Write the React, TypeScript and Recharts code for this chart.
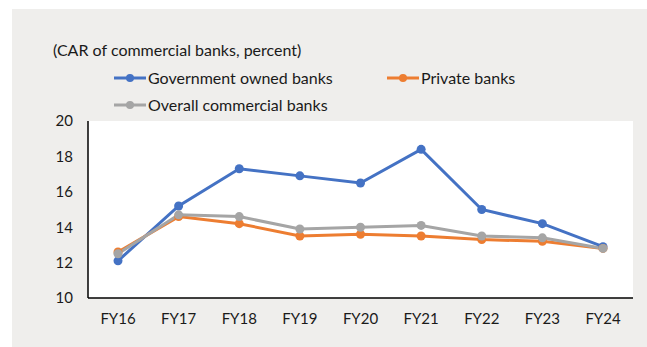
import { LineChart, Line, XAxis, YAxis, CartesianGrid } from "recharts";

// ── Data ─────────────────────────────────────────────────────────────

const YEARS = ["FY16", "FY17", "FY18", "FY19", "FY20", "FY21", "FY22", "FY23", "FY24"];
const GOVT = [12.1, 15.2, 17.3, 16.9, 16.5, 18.4, 15.0, 14.2, 12.9];
const PRIVATE = [12.6, 14.6, 14.2, 13.5, 13.6, 13.5, 13.3, 13.2, 12.8];
const OVERALL = [12.5, 14.7, 14.6, 13.9, 14.0, 14.1, 13.5, 13.4, 12.8];
const Y_TICKS = [10, 12, 14, 16, 18, 20];

const SERIES = [
  { key: "govt", name: "Government owned banks", color: "#4472c4" },
  { key: "private", name: "Private banks", color: "#ed7d31" },
  { key: "overall", name: "Overall commercial banks", color: "#a5a5a5" },
];

const data = YEARS.map((year, i) => ({
  year,
  govt: GOVT[i],
  private: PRIVATE[i],
  overall: OVERALL[i],
}));

const FONT = "Lato, 'Open Sans', sans-serif";
const TEXT = "#1a1a1a";

// Legend laid out like the Excel original: two entries on row one, one below
const LEGEND_POS = [
  { left: 114, top: 68 },
  { left: 387, top: 68 },
  { left: 114, top: 95 },
];

function ChartLegend() {
  return (
    <>
      {SERIES.map((s, i) => (
        <div
          key={s.key}
          style={{
            position: "absolute",
            ...LEGEND_POS[i],
            display: "flex",
            alignItems: "center",
            whiteSpace: "nowrap",
            fontFamily: FONT,
            fontSize: 16,
            lineHeight: "20px",
            color: TEXT,
          }}
        >
          <svg width={32} height={10} style={{ marginRight: 2 }}>
            <line x1={0} y1={5} x2={32} y2={5} stroke={s.color} strokeWidth={3} />
            <circle cx={16} cy={5} r={4} fill={s.color} />
          </svg>
          {s.name}
        </div>
      ))}
    </>
  );
}

export default function App() {
  return (
    <div style={{ position: "absolute", left: 0, top: 0, width: 647, height: 347, background: "#fff" }}>
      <div
        style={{ position: "absolute", left: 12, top: 9, width: 635, height: 338, background: "#efeeec" }}
      />
      <div
        style={{
          position: "absolute",
          left: 53,
          top: 40,
          fontFamily: FONT,
          fontSize: 16,
          lineHeight: "20px",
          color: TEXT,
          whiteSpace: "nowrap",
        }}
      >
        (CAR of commercial banks, percent)
      </div>
      <ChartLegend />
      <div style={{ position: "absolute", left: 0, top: 0 }}>
        <LineChart
          width={647}
          height={347}
          data={data}
          margin={{ top: 121, right: 14, bottom: 48, left: 87 }}
        >
          <CartesianGrid horizontal={false} vertical={false} fill="#ffffff" />
          <XAxis
            dataKey="year"
            padding={{ left: 30, right: 30 }}
            axisLine={{ stroke: "#000", strokeWidth: 1.5 }}
            tickLine={false}
            tickSize={0}
            tickMargin={15}
            height={1}
            tick={{ fill: TEXT, fontSize: 15, fontFamily: FONT }}
          />
          <YAxis
            domain={[10, 20]}
            ticks={Y_TICKS}
            interval={0}
            width={1}
            axisLine={{ stroke: "#000", strokeWidth: 1.5 }}
            tickLine={false}
            tickSize={0}
            tickMargin={15}
            tick={{ fill: TEXT, fontSize: 15, fontFamily: FONT }}
          />
          {SERIES.map((s) => (
            <Line
              key={s.key}
              name={s.name}
              dataKey={s.key}
              stroke={s.color}
              strokeWidth={3}
              dot={{ r: 4.5, fill: s.color, stroke: s.color, strokeWidth: 0 }}
              isAnimationActive={false}
            />
          ))}
        </LineChart>
      </div>
    </div>
  );
}
